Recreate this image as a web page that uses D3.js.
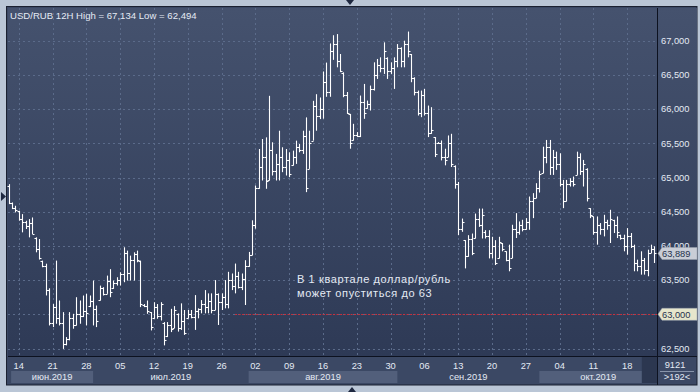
<!DOCTYPE html>
<html>
<head>
<meta charset="utf-8">
<script src="https://cdn.jsdelivr.net/npm/d3@7"></script>
<style>
body { margin: 0; background: #bac6d6; }
svg { display: block; font-family: "Liberation Sans", Arial, sans-serif; }
</style>
</head>
<body>
<script>
var g_title = "USD/RUB 12H High = 67,134 Low = 62,494";

// 12H bars
var g_high = [64903,64635,64587,64514,64465,64368,64392,64416,64125,64100,
  63785,63740,63380,63150,63785,63202,63032,62667,63032,63007,
  63250,63202,63275,63299,63275,63493,63129,63420,63396,63566,
  63660,63493,63542,63615,63980,63931,63858,63906,63931,63785,
  63150,63202,63032,63177,63150,63177,62886,62886,63080,63120,
  63014,63160,63063,63063,63063,63281,63087,63208,63354,63306,
  63306,63500,63306,63306,63500,63621,63597,63742,63621,63597,
  63791,63912,64374,64883,65417,65563,65587,66194,65515,65345,
  65684,65442,65417,65369,65393,65539,65490,65684,65879,65684,
  66121,66218,66170,66550,66680,66960,67080,67097,66806,66538,
  66250,65930,65785,65664,66198,66368,66125,66344,66684,66733,
  66757,66976,66757,66684,66757,66951,66903,67000,67134,66806,
  66465,66271,66271,66295,66052,66028,65591,65518,65542,65421,
  65615,65639,65178,64935,64400,64084,64157,64181,64473,64546,
  64546,64230,64230,64133,64084,64133,64042,63921,64018,64309,
  64479,64358,64382,64406,64722,64771,64917,65100,65451,65549,
  65549,65403,65378,65354,64965,64965,64990,65014,65378,65354,
  65257,65135,64552,64431,64431,64334,64455,64382,64528,64382,
  64431,64164,64164,64260,64188,64018,63799,63921,63823,63945,
  64018,63994];
var g_low = [64611,64538,64490,64368,64198,64247,64125,64174,63906,63800,
  63688,63275,62837,62813,62862,62837,62494,62546,62619,62789,
  62837,62862,62959,62837,63105,62837,62813,63202,63275,63299,
  63250,63372,63420,63420,63469,63493,63493,63493,63761,63105,
  63105,63007,62764,62935,62935,62910,62546,62667,62740,62800,
  62747,62772,62699,62941,62941,62772,62941,63014,63014,63014,
  63014,63063,62844,63063,63087,63087,63354,63306,63378,63354,
  63136,63694,63864,64252,64835,64956,64835,64956,65029,64956,
  64956,65078,65029,65005,65175,65199,65369,65345,64786,65126,
  65539,65684,65854,65860,66180,66180,66720,66611,66540,66174,
  65930,65421,65542,65591,65591,65858,66004,65979,66271,66441,
  66538,66514,66441,66514,66295,66611,66611,66611,66757,66393,
  66200,65906,65882,65906,65591,65639,65299,65493,65250,65178,
  65299,65153,64837,64157,64206,63671,63841,63865,64108,64278,
  64108,64108,63817,63817,63720,63817,63921,63775,63629,63823,
  64115,64164,64212,64236,64236,64406,64698,64780,65063,65208,
  65038,65038,65111,64868,64552,64650,64868,64868,65038,65038,
  64868,64650,64406,64164,64018,64164,64139,64236,64042,64188,
  64115,64091,63921,63872,63969,63629,63629,63580,63580,63556,
  63896,63750];
var g_open = [64880,64630,64560,64510,64390,64350,64290,64330,64120,63950,
  63780,63700,63350,62880,63100,62950,62880,62560,62640,62950,
  62850,63000,62980,63050,63120,63200,63080,63210,63380,63300,
  63480,63380,63460,63500,63590,63900,63600,63800,63880,63780,
  63140,63120,63030,62940,63100,62980,62880,62680,62850,62800,
  63010,62800,62900,62950,63000,62960,63050,63080,63150,63100,
  63200,63070,63300,63180,63250,63150,63500,63420,63560,63400,
  63520,63700,63870,64300,64850,65150,65300,64960,65400,65100,
  65200,65300,65150,65250,65180,65300,65450,65400,65600,65130,
  65540,66050,65900,66000,66400,66250,66850,66950,66700,66530,
  66200,65930,65550,65620,65610,66100,66010,66080,66300,66500,
  66650,66600,66750,66550,66600,66700,66900,66700,66950,66800,
  66450,66250,65950,66200,65950,65650,65590,65500,65510,65300,
  65300,65500,65170,64900,64250,64080,63850,64100,64110,64400,
  64300,64200,64150,63900,64000,63820,64040,63920,63800,63830,
  64250,64200,64300,64250,64350,64650,64700,64850,65070,65300,
  65450,65150,65300,65200,64900,64650,64900,64950,65040,65300,
  65100,65130,64550,64430,64200,64300,64250,64350,64300,64380,
  64300,64160,64120,64000,64150,64000,63750,63700,63800,63650,
  63900,63950];
var g_close = [64630,64560,64520,64390,64350,64290,64330,64180,63950,63820,
  63700,63350,62880,63100,62950,62880,62560,62640,62950,62850,
  63000,62980,63050,63020,63200,63080,62900,63380,63300,63480,
  63320,63460,63500,63590,63900,63600,63800,63880,63790,63150,
  63120,63050,62820,63100,62980,63150,62620,62850,62780,63060,
  62800,62900,62720,63000,62960,63050,63080,63150,63100,63200,
  63060,63300,63180,63250,63150,63500,63420,63560,63400,63520,
  63700,63860,64300,64850,65150,65300,64950,65400,65100,65200,
  65300,65150,65250,65050,65300,65450,65400,65600,64850,65500,
  66050,65900,66000,66400,66250,66850,66950,66700,66560,66200,
  65950,65500,65620,65610,66100,65950,66080,66300,66500,66650,
  66600,66850,66550,66600,66700,66900,66700,66950,66850,66450,
  66250,65950,66200,65950,65650,65700,65350,65510,65300,65250,
  65500,65200,64900,64250,64350,63850,64100,63900,64400,64300,
  64450,64150,63900,64000,63750,64050,63950,63800,63680,64250,
  64200,64300,64250,64350,64650,64700,64850,65050,65300,65450,
  65150,65300,65200,64900,64650,64900,64950,64900,65300,65100,
  65200,64700,64450,64200,64300,64250,64350,64300,64400,64300,
  64200,64120,64000,64150,64000,63750,63700,63800,63650,63900,
  63950,63889];

var g_firstBar = new Date(2019, 5, 12, 12);   // Wed 12 Jun 2019, 12:00
var g_priceTicks = [67000, 66500, 66000, 65500, 65000, 64500, 64000, 63500, 63000, 62500];
var g_weekLabels = ["14","21","28","05","12","19","26","02","09","16","23","30","06","13","20","27","04","11","18"];
var g_monthLabels = ["июн.2019","июл.2019","авг.2019","сен.2019","окт.2019"];
var g_lastPrice = 63889;
var g_targetPrice = 63000;
var g_targetFrom = new Date(2019, 6, 30, 0);
var g_note = ["В 1 квартале доллар/рубль", "может опуститься до 63"];
var g_corner = ["9121", ">192<"];

// bar dates: two 12h bars per weekday
var g_dates = [];
var d = new Date(g_firstBar);
while (g_dates.length < g_high.length) {
  if (d.getDay() != 0 && d.getDay() != 6) g_dates.push(new Date(d));
  d = new Date(d.getTime() + 12 * 3600 * 1000);
}

var bars = g_high.map(function(h, i) {
  return { i: i, date: g_dates[i], high: h, low: g_low[i], open: g_open[i], close: g_close[i] };
});

var W = 700, H = 392;
var plot = { left: 8, top: 8, right: 657, bottom: 356 };
var panelRight = 697, panelBottom = 385;
var textColor = "#e4eaf4";

var x = d3.scaleLinear().domain([0, bars.length - 1]).range([8.6, 654.3]);
var y = d3.scaleLinear().domain([62500, 67000]).range([348.5, 40.7]);

var svg = d3.select("body").append("svg").attr("width", W).attr("height", H);

var grad = svg.append("defs").append("linearGradient")
  .attr("id", "bg").attr("gradientUnits", "userSpaceOnUse")
  .attr("x1", 0).attr("y1", plot.top).attr("x2", 0).attr("y2", plot.bottom);
grad.append("stop").attr("offset", "0%").attr("stop-color", "#45526e");
grad.append("stop").attr("offset", "100%").attr("stop-color", "#2e3a56");

// frame
svg.append("rect").attr("width", W).attr("height", H).attr("fill", "#bac6d6");
svg.append("rect").attr("x", 6.5).attr("y", 6.5)
  .attr("width", panelRight - 6.5).attr("height", panelBottom - 6.5)
  .attr("fill", "#3b4864").attr("stroke", "#1b2131");
svg.append("rect").attr("x", plot.left).attr("y", plot.top)
  .attr("width", panelRight - plot.left).attr("height", plot.bottom - plot.top)
  .attr("fill", "url(#bg)");

// bottom axis: month blocks
var monthStarts = [0];
bars.forEach(function(b, i) {
  if (i > 0 && b.date.getMonth() != bars[i - 1].date.getMonth()) monthStarts.push(i);
});
var axisG = svg.append("g");
monthStarts.forEach(function(s, k) {
  var x0 = k == 0 ? x(0) + 2.5 : x(s);
  var x1 = k == monthStarts.length - 1 ? plot.right : x(monthStarts[k + 1]);
  if (k % 2 == 0) {
    axisG.append("rect").attr("x", x0).attr("y", 371).attr("width", x1 - x0).attr("height", 12)
      .attr("fill", "#525f7b");
  }
  axisG.append("text").attr("x", (x0 + x1) / 2).attr("y", 380)
    .attr("text-anchor", "middle").attr("font-size", "9.3px").attr("fill", textColor)
    .text(g_monthLabels[k]);
});
axisG.append("rect").attr("x", x(bars.length - 1) - 12.5).attr("y", 357)
  .attr("width", plot.right - x(bars.length - 1) + 12.5).attr("height", 26)
  .attr("fill", "#2c3750");

// week ticks: Friday 00:00 bars
var weekIdx = bars.filter(function(b) { return b.date.getDay() == 5 && b.date.getHours() == 0; })
  .map(function(b) { return b.i; });

var grid = svg.append("g").attr("stroke", "#5b6b8a").attr("stroke-dasharray", "2,3").attr("stroke-width", 1);
weekIdx.forEach(function(i) {
  grid.append("line").attr("x1", Math.round(x(i)) + 0.5).attr("x2", Math.round(x(i)) + 0.5)
    .attr("y1", plot.top).attr("y2", plot.bottom);
});
g_priceTicks.forEach(function(p) {
  grid.append("line").attr("x1", plot.left).attr("x2", plot.right)
    .attr("y1", Math.round(y(p)) + 0.5).attr("y2", Math.round(y(p)) + 0.5);
});

weekIdx.forEach(function(i, k) {
  axisG.append("text").attr("x", x(i)).attr("y", 369)
    .attr("text-anchor", "middle").attr("font-size", "9.3px").attr("fill", textColor)
    .text(g_weekLabels[k]);
});

// separators
svg.append("line").attr("x1", plot.right + 0.5).attr("x2", plot.right + 0.5)
  .attr("y1", plot.top).attr("y2", panelBottom).attr("stroke", "#0d1220");
svg.append("line").attr("x1", plot.left).attr("x2", panelRight)
  .attr("y1", plot.bottom + 0.5).attr("y2", plot.bottom + 0.5).attr("stroke", "#0d1220");

// target line
var fromIdx = d3.bisector(function(b) { return b.date; }).left(bars, g_targetFrom);
svg.append("line").attr("x1", x(fromIdx)).attr("x2", plot.right)
  .attr("y1", Math.round(y(g_targetPrice)) + 0.5).attr("y2", Math.round(y(g_targetPrice)) + 0.5)
  .attr("stroke", "#c8303c").attr("stroke-width", 1).attr("stroke-dasharray", "2,1.5");

// OHLC bars
var barG = svg.append("g").attr("stroke", "#ffffff").attr("stroke-width", 1.1);
bars.forEach(function(b) {
  var cx = Math.round(x(b.i)) + 0.5;
  var yo = Math.round(y(b.open)) + 0.5, yc = Math.round(y(b.close)) + 0.5;
  barG.append("line").attr("x1", cx).attr("x2", cx).attr("y1", y(b.high)).attr("y2", y(b.low));
  barG.append("line").attr("x1", cx - 2).attr("x2", cx).attr("y1", yo).attr("y2", yo);
  barG.append("line").attr("x1", cx).attr("x2", cx + 2).attr("y1", yc).attr("y2", yc);
});

// title
svg.append("text").attr("x", 10).attr("y", 19).attr("font-size", "9.6px").attr("fill", textColor)
  .text(g_title);

// note
g_note.forEach(function(t, k) {
  svg.append("text").attr("x", 297).attr("y", 283 + k * 14).attr("font-size", "11px")
    .attr("letter-spacing", "0.6px").attr("fill", textColor).text(t);
});

// right axis labels
var fmt = d3.format(",");
g_priceTicks.forEach(function(p) {
  svg.append("text").attr("x", 661).attr("y", y(p)).attr("dy", "0.35em")
    .attr("font-size", "9.3px").attr("fill", textColor).text(fmt(p));
});

// price tags
function tag(p, fill) {
  var yc = y(p);
  svg.append("path")
    .attr("d", "M658," + yc + " L662," + (yc - 6) + " L" + panelRight + "," + (yc - 6) +
      " L" + panelRight + "," + (yc + 6) + " L662," + (yc + 6) + " Z")
    .attr("fill", fill).attr("stroke", "#9aa2b0").attr("stroke-width", 0.5);
  svg.append("text").attr("x", 662).attr("y", yc).attr("dy", "0.35em")
    .attr("font-size", "9.3px").attr("fill", "#26324d").text(fmt(p));
}
tag(g_lastPrice, "#c9cdd6");
tag(g_targetPrice, "#e6e6cc");

// corner box
svg.append("text").attr("x", 675).attr("y", 368).attr("text-anchor", "middle")
  .attr("font-size", "9.3px").attr("fill", textColor).text(g_corner[0]);
svg.append("line").attr("x1", 660).attr("x2", 694).attr("y1", 371.5).attr("y2", 371.5)
  .attr("stroke", "#8894aa");
svg.append("text").attr("x", 677).attr("y", 380).attr("text-anchor", "middle")
  .attr("font-size", "9.3px").attr("fill", textColor).text(g_corner[1]);

// little markers on the frame
svg.append("path").attr("d", "M346,0 L354,0 L350,5 Z").attr("fill", "#1e2840");
svg.append("path").attr("d", "M348,392 L356,392 L352,387 Z").attr("fill", "#1e2840");
svg.append("path").attr("d", "M1,192 L6,196.5 L1,201 Z").attr("fill", "#1e2840");
</script>
</body>
</html>
